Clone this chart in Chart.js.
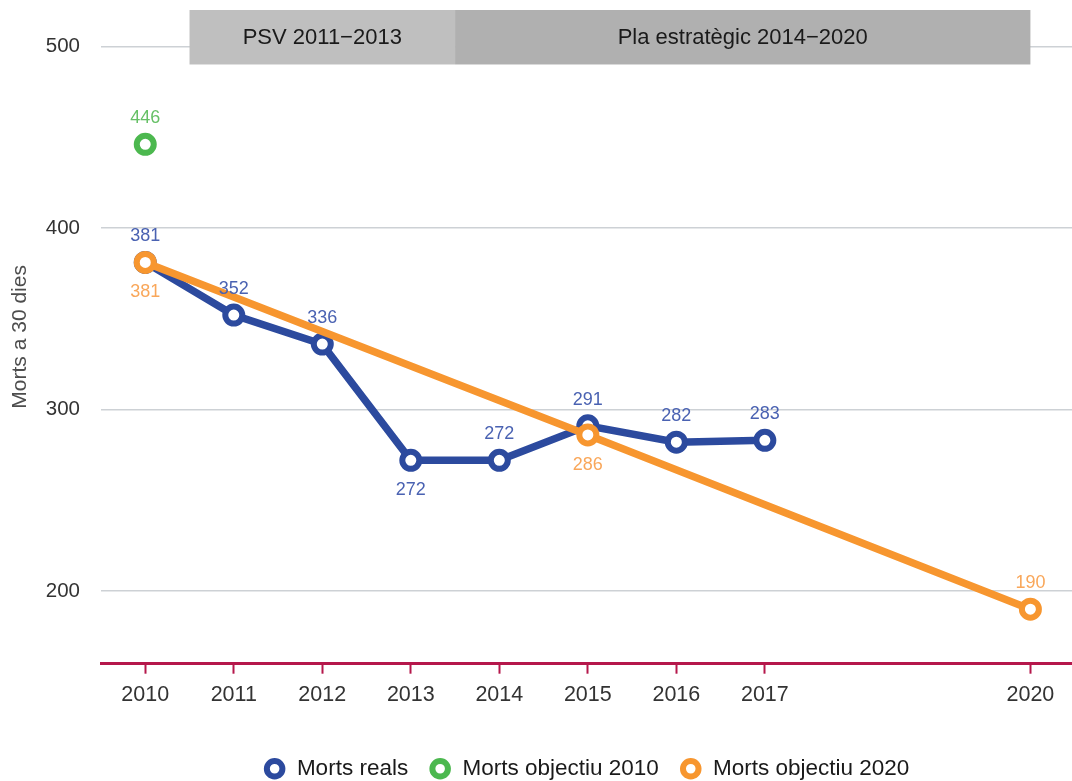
<!DOCTYPE html>
<html>
<head>
<meta charset="utf-8">
<script src="https://cdn.jsdelivr.net/npm/chart.js@4"></script>
<style>
  body { margin: 0; background: #fff; }
  #wrap { width: 1072px; height: 781px; }
</style>
</head>
<body>
<div id="wrap"><canvas id="chart"></canvas></div>
<script>
// --- DATA ---
const realYears = [2010, 2011, 2012, 2013, 2014, 2015, 2016, 2017];
const realDeaths = [381, 352, 336, 272, 272, 291, 282, 283];
const target2010Years = [2010];
const target2010Deaths = [446];
const target2020Years = [2010, 2015, 2020];
const target2020Deaths = [381, 286, 190];
const xTickYears = [2010, 2011, 2012, 2013, 2014, 2015, 2016, 2017, 2020];
const yTickValues = [200, 300, 400, 500];
const periodLabels = ["PSV 2011\u22122013", "Pla estratègic 2014\u22122020"];
const periodStart = [2010.5, 2013.5];
const periodEnd = [2013.5, 2020];

// --- COLORS ---
const BLUE = "#2c4a9e";
const GREEN = "#4cb84f";
const ORANGE = "#f7962f";
const FONT = "'Liberation Sans', Arial, sans-serif";

const toPoints = (xs, ys) => xs.map((x, i) => ({ x: x, y: ys[i] }));

// period header bands (drawn over grid, under lines)
const periodBands = {
    id: "periodBands",
    beforeDatasetsDraw(chart) {
        const { ctx, scales: { x, y } } = chart;
        const top = y.getPixelForValue(520);
        const bottom = y.getPixelForValue(490);
        const fills = ["#bfbfbf", "#b0b0b0"];
        ctx.save();
        periodLabels.forEach((label, i) => {
            const left = x.getPixelForValue(periodStart[i]);
            const right = x.getPixelForValue(periodEnd[i]);
            ctx.fillStyle = fills[i];
            ctx.fillRect(left, top, right - left, bottom - top);
            ctx.fillStyle = "#1a1a1a";
            ctx.font = "22px " + FONT;
            ctx.textAlign = "center";
            ctx.textBaseline = "middle";
            ctx.fillText(label, (left + right) / 2, (top + bottom) / 2 + 1);
        });
        ctx.restore();
    }
};

// value labels next to each point
const valueLabels = {
    id: "valueLabels",
    afterDatasetsDraw(chart) {
        const { ctx } = chart;
        ctx.save();
        ctx.font = "18px " + FONT;
        ctx.textAlign = "center";
        ctx.textBaseline = "middle";
        chart.data.datasets.forEach((ds, di) => {
            const meta = chart.getDatasetMeta(di);
            meta.data.forEach((pt, i) => {
                const below = (ds.labelsBelow || []).includes(i);
                ctx.fillStyle = ds.labelColor;
                ctx.fillText(String(ds.data[i].y), pt.x, pt.y + (below ? 30 : -26));
            });
        });
        ctx.restore();
    }
};

const pointStyle = color => ({
    borderColor: color,
    backgroundColor: color,
    pointBackgroundColor: "#ffffff",
    pointBorderColor: color,
    pointRadius: 8.5,
    pointHoverRadius: 8.5,
    pointBorderWidth: 6,
    pointStyle: "circle"
});

new Chart(document.getElementById("chart"), {
    type: "line",
    data: {
        datasets: [
            {
                label: "Morts reals",
                data: toPoints(realYears, realDeaths),
                ...pointStyle(BLUE),
                borderWidth: 7.5,
                labelColor: "#4a62b2",
                labelsBelow: [3],
                order: 3
            },
            {
                label: "Morts objectiu 2010",
                data: toPoints(target2010Years, target2010Deaths),
                ...pointStyle(GREEN),
                showLine: false,
                labelColor: "#66c066",
                order: 2
            },
            {
                label: "Morts objectiu 2020",
                data: toPoints(target2020Years, target2020Deaths),
                ...pointStyle(ORANGE),
                borderWidth: 7.5,
                labelColor: "#f9a75a",
                labelsBelow: [0, 1],
                order: 1
            }
        ]
    },
    options: {
        responsive: true,
        maintainAspectRatio: false,
        animation: false,
        layout: { autoPadding: false, padding: { top: 10, right: 0, left: 0, bottom: -9 } },
        plugins: {
            tooltip: { enabled: false },
            legend: {
                position: "bottom",
                fullSize: false,
                labels: {
                    usePointStyle: true,
                    boxWidth: 22,
                    boxHeight: 11,
                    padding: 21,
                    color: "#1a1a1a",
                    font: { size: 22.5, family: FONT },
                    sort: (a, b) => a.datasetIndex - b.datasetIndex
                }
            }
        },
        scales: {
            x: {
                type: "linear",
                min: 2009.5,
                max: 2020.47,
                afterBuildTicks: s => { s.ticks = xTickYears.map(v => ({ value: v })); },
                afterFit: s => { s.paddingLeft = 0; s.paddingRight = 0; s.height += 21; },
                grid: {
                    drawOnChartArea: false,
                    drawTicks: true,
                    tickLength: 10,
                    tickColor: "#b5174b",
                    tickWidth: 2
                },
                border: { color: "#b5174b", width: 3 },
                ticks: {
                    color: "#333333",
                    font: { size: 21.5, family: FONT },
                    padding: 8,
                    maxRotation: 0,
                    callback: v => String(v)
                }
            },
            y: {
                min: 160,
                max: 520,
                afterBuildTicks: s => { s.ticks = yTickValues.map(v => ({ value: v })); },
                afterFit: s => { s.width = 101; s.paddingTop = 0; s.paddingBottom = 0; },
                grid: { color: "#cdd1d5", lineWidth: 1.5, drawTicks: false },
                border: { display: false },
                ticks: {
                    color: "#333333",
                    font: { size: 20.5, family: FONT },
                    padding: 21
                },
                title: {
                    display: true,
                    text: "Morts a 30 dies",
                    color: "#4d4d4d",
                    font: { size: 21, family: FONT },
                    padding: { top: 8, bottom: 0 }
                }
            }
        }
    },
    plugins: [periodBands, valueLabels]
});
</script>
</body>
</html>
